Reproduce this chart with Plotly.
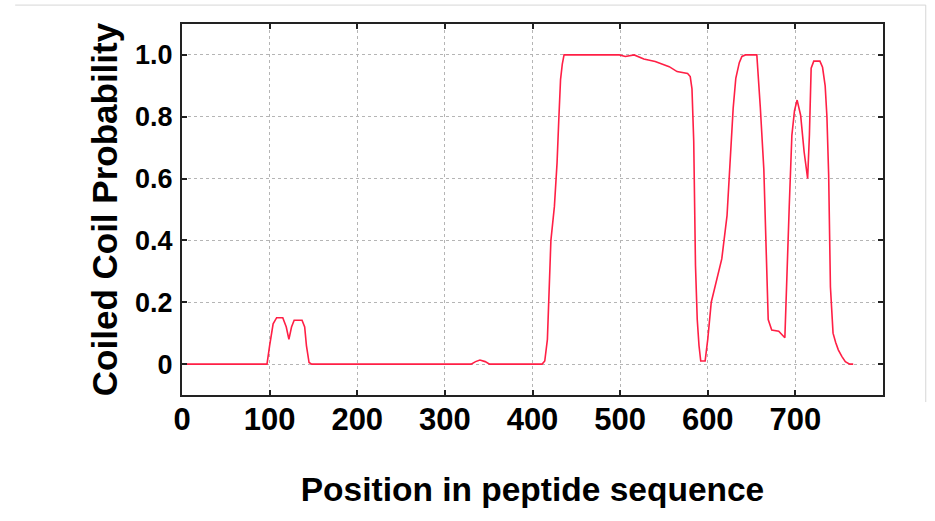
import plotly.graph_objects as go

# Residue position along the peptide sequence
position = [0, 97, 100, 104, 108, 115, 119, 122, 125, 128, 137, 140, 142, 145, 148,
            330, 335, 340, 346, 351,
            411, 414, 417, 419, 421, 425, 428, 430, 432, 434, 436, 480, 499, 506, 516,
            527, 540, 556, 565, 577, 580, 582, 584, 586, 588, 590, 592, 597, 600, 604,
            610, 616, 622, 626, 629, 632, 636, 639, 643, 656, 658, 660, 664, 667, 669,
            673, 681, 688, 690, 693, 696, 699, 702, 706, 710, 714, 716, 718, 721, 728,
            731, 734, 736, 738, 740, 743, 746, 749, 753, 757, 762, 766]

# Coiled-coil probability at each position
probability = [0, 0, 0.06, 0.13, 0.15, 0.15, 0.12, 0.08, 0.12, 0.142, 0.142, 0.12, 0.06, 0.005, 0,
               0, 0.008, 0.013, 0.008, 0,
               0, 0.01, 0.08, 0.25, 0.40, 0.51, 0.65, 0.79, 0.92, 0.97, 1.0, 1.0, 1.0, 0.995, 1.0,
               0.987, 0.979, 0.962, 0.946, 0.94, 0.93, 0.89, 0.72, 0.32, 0.144, 0.06, 0.01, 0.01, 0.08, 0.2,
               0.27, 0.34, 0.48, 0.686, 0.827, 0.924, 0.975, 0.995, 1.0, 1.0, 0.93, 0.83, 0.63, 0.36, 0.144,
               0.11, 0.106, 0.085, 0.23, 0.51, 0.74, 0.82, 0.854, 0.805, 0.686, 0.6, 0.74, 0.957, 0.98, 0.98,
               0.96, 0.90, 0.8, 0.61, 0.25, 0.10, 0.07, 0.046, 0.025, 0.008, 0, 0]

x_ticks = [0, 100, 200, 300, 400, 500, 600, 700]
y_ticks = [0, 0.2, 0.4, 0.6, 0.8, 1.0]
y_tick_labels = ["0", "0.2", "0.4", "0.6", "0.8", "1.0"]

FONT = "Liberation Sans, Arial, sans-serif"

fig = go.Figure()
fig.add_trace(go.Scatter(
    x=position, y=probability, mode="lines",
    line=dict(color="#ff1f45", width=1.6),
    hoverinfo="x+y", showlegend=False,
))

axis_common = dict(
    showline=True, linecolor="#222222", linewidth=2, mirror="ticks",
    ticks="inside", ticklen=5, tickwidth=1.5, tickcolor="#222222",
    showgrid=True, gridcolor="#b5b5b5", griddash="dot", gridwidth=1,
    zeroline=False,
)

fig.update_layout(
    width=935, height=521,
    margin=dict(l=182, r=52, t=24, b=126),
    paper_bgcolor="white", plot_bgcolor="white",
    xaxis=dict(
        range=[0, 800], tickvals=x_ticks,
        tickfont=dict(family=FONT, size=31, color="black", weight="bold"),
        ticklabelstandoff=-4,
        title=dict(text="Position in peptide sequence",
                   font=dict(family=FONT, size=33.5, color="black", weight="bold"),
                   standoff=41),
        **axis_common,
    ),
    yaxis=dict(
        range=[-0.1, 1.1], tickvals=y_ticks, ticktext=y_tick_labels,
        tickfont=dict(family=FONT, size=27, color="black", weight="bold"),
        ticklabelstandoff=2,
        title=dict(text="Coiled Coil Probability",
                   font=dict(family=FONT, size=35, color="black", weight="bold"),
                   standoff=7),
        **axis_common,
    ),
    shapes=[
        dict(type="line", xref="paper", yref="paper", x0=-0.238, x1=1.061, y0=1.051, y1=1.051,
             line=dict(color="#d6d6d6", width=1)),
        dict(type="line", xref="paper", yref="paper", x0=1.061, x1=1.061, y0=1.051, y1=-0.019,
             line=dict(color="#d6d6d6", width=1)),
    ],
)

fig.write_html("out.html", post_script="document.body.style.margin='0';",
               config={"displayModeBar": False})
